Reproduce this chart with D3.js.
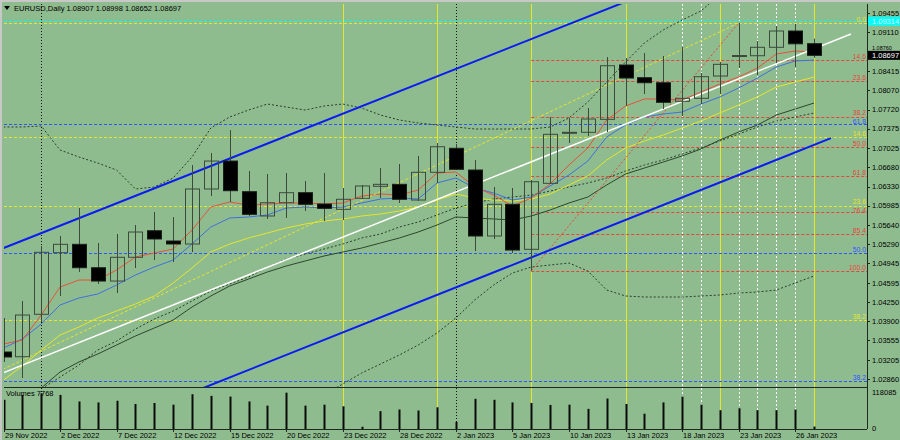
<!DOCTYPE html>
<html><head><meta charset="utf-8">
<script src="https://cdn.jsdelivr.net/npm/d3@7"></script>
<style>html,body{margin:0;padding:0;background:#8fbc8f;}svg{display:block;}text{font-family:"Liberation Sans",Arial,sans-serif;}</style>
</head><body><svg id="c" width="900" height="440"></svg>
<script>
// ---------------- DATA ----------------
const symbolTitle = "EURUSD,Daily";
const headerOHLC = ["1.08907","1.08998","1.08652","1.08697"];
const dates = ["2022-11-29","2022-11-30","2022-12-01","2022-12-02","2022-12-05","2022-12-06","2022-12-07","2022-12-08","2022-12-09","2022-12-12","2022-12-13","2022-12-14","2022-12-15","2022-12-16","2022-12-19","2022-12-20","2022-12-21","2022-12-22","2022-12-23","2022-12-26","2022-12-27","2022-12-28","2022-12-29","2022-12-30","2023-01-02","2023-01-03","2023-01-04","2023-01-05","2023-01-06","2023-01-09","2023-01-10","2023-01-11","2023-01-12","2023-01-13","2023-01-16","2023-01-17","2023-01-18","2023-01-19","2023-01-20","2023-01-23","2023-01-24","2023-01-25","2023-01-26","2023-01-27"];
const opens  = [1.03347,1.03262,1.04027,1.05138,1.05289,1.04867,1.04627,1.05055,1.05534,1.05349,1.05295,1.06287,1.06791,1.06238,1.05800,1.06039,1.06220,1.06016,1.05920,1.06119,1.06335,1.06371,1.06088,1.06588,1.07021,1.06629,1.05439,1.06011,1.05199,1.06389,1.07300,1.07309,1.07543,1.08523,1.08294,1.08203,1.07868,1.07922,1.08324,1.08685,1.08690,1.08842,1.09136,1.08907];
const highs  = [1.03960,1.04267,1.05258,1.05439,1.05944,1.05313,1.05475,1.05637,1.05872,1.05781,1.06719,1.06936,1.07350,1.06611,1.06557,1.06575,1.06431,1.06575,1.06305,1.06359,1.06665,1.06737,1.06882,1.07116,1.07098,1.06810,1.06323,1.06305,1.06449,1.07585,1.07567,1.07747,1.08667,1.08649,1.08739,1.08685,1.08847,1.08378,1.08577,1.09280,1.08956,1.09226,1.09262,1.08998];
const lows   = [1.03167,1.02878,1.03888,1.04357,1.04790,1.04573,1.04411,1.04862,1.05006,1.04970,1.05150,1.06160,1.06052,1.05800,1.05746,1.05764,1.05890,1.05709,1.05727,1.06106,1.06124,1.06034,1.06070,1.06395,1.06629,1.05168,1.05385,1.05132,1.04813,1.06377,1.07116,1.07242,1.07314,1.07783,1.08000,1.07729,1.07603,1.07819,1.08000,1.08469,1.08342,1.08559,1.08487,1.08652];
const closes = [1.03257,1.04014,1.05145,1.05289,1.04867,1.04627,1.05055,1.05511,1.05385,1.05295,1.06287,1.06791,1.06256,1.05830,1.06039,1.06220,1.06011,1.05938,1.06101,1.06341,1.06371,1.06101,1.06588,1.07049,1.06642,1.05439,1.06011,1.05186,1.06418,1.07273,1.07309,1.07549,1.08510,1.08288,1.08203,1.07850,1.07922,1.08312,1.08535,1.08694,1.08842,1.09136,1.08905,1.08697];
const volumes = [93200,108800,114000,108800,87900,84800,90100,79900,83000,77700,110900,105700,103500,87900,74600,115900,74600,77700,72400,7100,56900,62200,59000,69300,22700,96300,93200,84800,83000,76800,77700,64300,97300,79900,48800,84800,103500,77700,60000,66200,60000,60000,62200,7768];
const volumeMax = 118085;
const volumeLabel = "Volumes 7768";

const maRed    = [1.03491,1.03563,1.04014,1.04519,1.04645,1.04645,1.04826,1.05060,1.05132,1.05204,1.05547,1.05962,1.06052,1.05998,1.06016,1.06034,1.06034,1.06016,1.06034,1.06160,1.06196,1.06178,1.06268,1.06575,1.06593,1.06323,1.06178,1.05980,1.06124,1.06377,1.06719,1.07026,1.07531,1.07783,1.07910,1.07910,1.07892,1.08036,1.08180,1.08306,1.08469,1.08721,1.08775,1.08757];
const maBlue   = [1.03419,1.03581,1.03852,1.04195,1.04321,1.04393,1.04555,1.04736,1.04880,1.05006,1.05295,1.05601,1.05764,1.05782,1.05818,1.05944,1.05962,1.05944,1.05962,1.06034,1.06106,1.06124,1.06106,1.06395,1.06485,1.06305,1.06214,1.06088,1.06142,1.06341,1.06539,1.06791,1.07224,1.07441,1.07585,1.07639,1.07675,1.07819,1.07946,1.08108,1.08288,1.08487,1.08595,1.08613];
const maYellow = [1.02842,1.03094,1.03383,1.03653,1.03798,1.03960,1.04086,1.04213,1.04357,1.04591,1.04862,1.05150,1.05295,1.05403,1.05493,1.05583,1.05655,1.05709,1.05746,1.05800,1.05836,1.05890,1.05962,1.06088,1.06196,1.06124,1.06088,1.06070,1.06106,1.06196,1.06359,1.06521,1.06810,1.07026,1.07152,1.07260,1.07387,1.07513,1.07657,1.07801,1.07946,1.08126,1.08216,1.08306];
const maDark   = [1.02391,1.02553,1.02698,1.02986,1.03167,1.03311,1.03473,1.03636,1.03780,1.03924,1.04158,1.04357,1.04537,1.04663,1.04790,1.04898,1.04988,1.05078,1.05150,1.05222,1.05313,1.05403,1.05511,1.05637,1.05782,1.05764,1.05746,1.05727,1.05800,1.05908,1.06034,1.06142,1.06359,1.06557,1.06665,1.06773,1.06882,1.07008,1.07170,1.07314,1.07441,1.07621,1.07729,1.07837];
const bbUpper  = [1.07405,1.07405,1.07423,1.06990,1.06864,1.06755,1.06629,1.06287,1.06323,1.06485,1.06864,1.07387,1.07585,1.07711,1.07819,1.07765,1.07711,1.07783,1.07819,1.07747,1.07621,1.07531,1.07477,1.07441,1.07405,1.07369,1.07369,1.07369,1.07369,1.07405,1.07567,1.07855,1.08216,1.08577,1.08919,1.09154,1.09334,1.09497,1.09785,1.09965,1.10056,1.10146,1.10200,1.10236];
const bbMiddle = [1.02481,1.02572,1.02680,1.02896,1.03112,1.03383,1.03545,1.03762,1.03942,1.04086,1.04267,1.04447,1.04573,1.04700,1.04880,1.05024,1.05114,1.05204,1.05295,1.05403,1.05475,1.05601,1.05691,1.05818,1.05944,1.06034,1.06106,1.06142,1.06178,1.06250,1.06323,1.06395,1.06485,1.06611,1.06719,1.06810,1.06918,1.07026,1.07152,1.07278,1.07405,1.07513,1.07585,1.07657];
const bbLower  = [null,null,null,null,null,null,null,null,null,null,null,null,null,null,null,null,1.02391,1.02572,1.02770,1.02968,1.03131,1.03293,1.03473,1.03690,1.03960,1.04285,1.04555,1.04772,1.04880,1.04916,1.04952,1.04808,1.04465,1.04357,1.04339,1.04339,1.04339,1.04357,1.04375,1.04411,1.04429,1.04465,1.04591,1.04718];

const priceTicks = ["1.09455","1.09110","1.08760","1.08415","1.08070","1.07720","1.07375","1.07025","1.06680","1.06330","1.05985","1.05640","1.05290","1.04945","1.04595","1.04250","1.03900","1.03555","1.03205","1.02860"];
const dateLabelIndex = [0,3,6,9,12,15,18,21,24,27,30,33,36,39,42];
const dateLabels = ["29 Nov 2022","2 Dec 2022","7 Dec 2022","12 Dec 2022","15 Dec 2022","20 Dec 2022","23 Dec 2022","28 Dec 2022","2 Jan 2023","5 Jan 2023","10 Jan 2023","13 Jan 2023","18 Jan 2023","23 Jan 2023","26 Jan 2023"];

const fibRedLabels = ["14.6","23.6","38.2","50.0","61.8","76.4","85.4","100.0"];
const fibRedPrices = [1.08622,1.08234,1.07585,1.07038,1.06526,1.05866,1.05475,1.04813];
const fibRedStart = 28;
const fibYellowLabels = ["0.0","14.6","23.6","38.2"];
const fibYellowPrices = [1.09280,1.07224,1.05980,1.03924];
const fibBlueLabels = ["61.8","50.0","38.2"];
const fibBluePrices = [1.07459,1.05138,1.02824];
const cyanLevel = 1.09314;
const cyanLabel = "1.09314";
const lastPrice = 1.08697;
const lastLabel = "1.08697";

const channelUpper = [[-1,1.05087],[46,1.11413]];
const channelLower = [[8,1.02347],[43.9,1.07203]];
const whiteTrend   = [[-1,1.02837],[44.96,1.09082]];
const redFibDiag   = [[28,1.04813],[39,1.09280]];
const yellowFibDiag= [[-1,1.02881],[39,1.09280]];

const yellowMarks = [18,23,28,33,38,43];
const whiteMarks  = [36,37,39,40,41,42];
const monthMarks  = [2,24];

// ---------------- LAYOUT ----------------
const W=900,H=440, L=4, R=867, T=4, PB=387, VB=429;
const BG="#8fbc8f";
const svg=d3.select("#c");
svg.append("rect").attr("width",W).attr("height",H).attr("fill",BG);
svg.append("rect").attr("x",0).attr("y",0).attr("width",W).attr("height",2).attr("fill","#c8c8c8");
svg.append("rect").attr("x",0).attr("y",0).attr("width",2).attr("height",H).attr("fill","#c8c8c8");

const x=d3.scaleLinear().domain([0,43]).range([3.5,814]);
const y=d3.scaleLinear().domain([1.02716,1.09623]).range([PB,T]);
const yv=d3.scaleLinear().domain([0,volumeMax]).range([429,392]);

const defs=svg.append("defs");
defs.append("clipPath").attr("id","pp").append("rect").attr("x",L).attr("y",T).attr("width",R-L).attr("height",PB-T);
defs.append("clipPath").attr("id","vp").append("rect").attr("x",L).attr("y",PB+1).attr("width",R-L).attr("height",VB-PB-1);
defs.append("clipPath").attr("id","all").append("rect").attr("x",L).attr("y",T).attr("width",R-L).attr("height",VB-T);
defs.append("clipPath").attr("id","lbl").append("rect").attr("x",868).attr("y",0).attr("width",32).attr("height",H);

const gAll=svg.append("g").attr("clip-path","url(#all)");
const gP=svg.append("g").attr("clip-path","url(#pp)");
const gV=svg.append("g").attr("clip-path","url(#vp)");

function hline(g,p,x0,color,dash){
  g.append("line").attr("x1",x0).attr("x2",R).attr("y1",Math.round(y(p))+0.5).attr("y2",Math.round(y(p))+0.5)
   .attr("stroke",color).attr("stroke-width",1).attr("stroke-dasharray",dash);
}
fibBluePrices.forEach(p=>hline(gP,p,L,"#2f55ff","3,2"));
fibYellowPrices.forEach(p=>hline(gP,p,L,"#e6e62a","3,2"));
fibRedPrices.forEach(p=>hline(gP,p,x(fibRedStart),"#e8443a","3,2"));
hline(gP,cyanLevel,L,"#00ffff","3,2");

function vline(i,color,dash,w){
  gAll.append("line").attr("x1",Math.round(x(i))+0.5).attr("x2",Math.round(x(i))+0.5).attr("y1",T).attr("y2",VB)
   .attr("stroke",color).attr("stroke-width",w||1).attr("stroke-dasharray",dash);
}
monthMarks.forEach(i=>vline(i,"#111","1,2"));
whiteMarks.forEach(i=>vline(i,"#ffffff","2,2"));
yellowMarks.forEach(i=>vline(i,"#e6e62a",null));

const lineGen=d3.line().defined(d=>d!=null).x((d,i)=>x(i)).y(d=>y(d));
function series(arr,color,dash,w){
  gP.append("path").attr("d",lineGen(arr)).attr("fill","none").attr("stroke",color)
   .attr("stroke-width",w||1).attr("stroke-dasharray",dash);
}
series(bbUpper,"#2a3f2a","2,2");
series(bbMiddle,"#2a3f2a","2,2");
series(bbLower,"#2a3f2a","2,2");
series(maDark,"#2d472d",null);
series(maYellow,"#e6e62a",null);
series(maBlue,"#3f6fe0",null);
series(maRed,"#e8503a",null);

const segGen=d3.line().x(d=>x(d[0])).y(d=>y(d[1]));
function seg(pts,color,w,dash){
  gP.append("path").attr("d",segGen(pts)).attr("fill","none").attr("stroke",color).attr("stroke-width",w).attr("stroke-dasharray",dash);
}
seg(yellowFibDiag,"#e6e62a",1,"3,2");
seg(redFibDiag,"#e8443a",1,"2,2");
seg(whiteTrend,"#ffffff",1.5,null);
seg(channelUpper,"#0a1cf0",2,null);
seg(channelLower,"#0a1cf0",2,null);

const candles=dates.map((d,i)=>({i,o:opens[i],h:highs[i],l:lows[i],c:closes[i]}));
const cg=gP.selectAll("g.c").data(candles).join("g");
cg.append("line").attr("x1",d=>Math.round(x(d.i))+0.5).attr("x2",d=>Math.round(x(d.i))+0.5)
  .attr("y1",d=>y(d.h)).attr("y2",d=>y(d.l)).attr("stroke","#3c4a3c").attr("stroke-width",1);
cg.append("rect").attr("x",d=>Math.round(x(d.i))-6.5).attr("width",14)
  .attr("y",d=>Math.min(y(d.o),y(d.c))).attr("height",d=>Math.max(1,Math.abs(y(d.o)-y(d.c))))
  .attr("fill",d=>d.c<d.o?"#000":"none").attr("stroke",d=>d.c<d.o?"#1a1f1a":"#3c4a3c").attr("stroke-width",1);

gV.selectAll("rect.v").data(volumes).join("rect")
  .attr("x",(d,i)=>Math.round(x(i))-0.5).attr("width",2)
  .attr("y",d=>yv(d)).attr("height",d=>Math.max(1,yv(0)-yv(d))).attr("fill","#0a0a0a");

svg.append("line").attr("x1",L).attr("x2",R).attr("y1",PB+0.5).attr("y2",PB+0.5).attr("stroke","#1e2a1e");
svg.append("line").attr("x1",L).attr("x2",R).attr("y1",VB+0.5).attr("y2",VB+0.5).attr("stroke","#1e2a1e");
svg.append("line").attr("x1",R+0.5).attr("x2",R+0.5).attr("y1",T).attr("y2",VB).attr("stroke","#1e2a1e");

const fs=7.5;
// price axis: skip tick labels hidden behind the price boxes' centre; draw the rest
priceTicks.forEach(t=>{
  const yy=y(+t);
  svg.append("line").attr("x1",R).attr("x2",R+3).attr("y1",Math.round(yy)+0.5).attr("y2",Math.round(yy)+0.5).attr("stroke","#1e2a1e");
  const covered = Math.abs(yy - y(lastPrice)) < 8;
  const tx = svg.append("text").attr("x",872).attr("font-size",fs).attr("fill","#000").text(t);
  if(covered){
    // partly hidden by the last-price box: only the upper half remains visible
    tx.attr("y",y(lastPrice)-5.2).attr("font-size",5.5);
  } else tx.attr("y",yy+2.7);
});
svg.append("rect").attr("x",868).attr("y",y(cyanLevel)-4.5).attr("width",32).attr("height",9).attr("fill","#00ffff");
svg.append("text").attr("x",872).attr("y",y(cyanLevel)+2.7).attr("font-size",fs).attr("fill","#d8ffff").text(cyanLabel);
svg.append("rect").attr("x",868).attr("y",y(lastPrice)-4.5).attr("width",32).attr("height",9).attr("fill","#000");
svg.append("text").attr("x",872).attr("y",y(lastPrice)+2.7).attr("font-size",fs).attr("fill","#fff").text(lastLabel);

svg.append("text").attr("x",872).attr("y",yv(volumeMax)+2.7).attr("font-size",fs).attr("fill","#000").text(String(volumeMax));
svg.append("text").attr("x",872).attr("y",yv(0)+1.5).attr("font-size",fs).attr("fill","#000").text("0");
svg.append("text").attr("x",6).attr("y",396).attr("font-size",fs).attr("fill","#000").text(volumeLabel);

// fib labels (small nudges keep close neighbours apart)
const fibFs=6.8;
function fibLabels(labels,prices,color,nudge){
  labels.forEach((t,k)=>{
    svg.append("text").attr("x",866).attr("y",y(prices[k])-1+(nudge[k]||0)).attr("text-anchor","end")
      .attr("font-size",fibFs).attr("fill",color).text(t);
  });
}
fibLabels(fibRedLabels,fibRedPrices,"#e8443a",[0,0,-1.2,0,0,1.2,0,0]);
fibLabels(fibYellowLabels,fibYellowPrices,"#e6e62a",[0,0,-1.2,0]);
fibLabels(fibBlueLabels,fibBluePrices,"#2f55ff",[1.2,0,0]);

dateLabelIndex.forEach((i,k)=>{
  const xx=Math.round(x(i))+0.5;
  svg.append("line").attr("x1",xx).attr("x2",xx).attr("y1",VB).attr("y2",VB+3).attr("stroke","#1e2a1e");
  svg.append("text").attr("x",xx+0.5).attr("y",438).attr("font-size",fs).attr("fill","#000").text(dateLabels[k]);
});

svg.append("path").attr("d","M4,6 L10,6 L7,10 Z").attr("fill","#000");
svg.append("text").attr("x",14).attr("y",10.5).attr("font-size",fs).attr("fill","#000")
  .text(symbolTitle+"  "+headerOHLC.join(" "));
</script></body></html>
